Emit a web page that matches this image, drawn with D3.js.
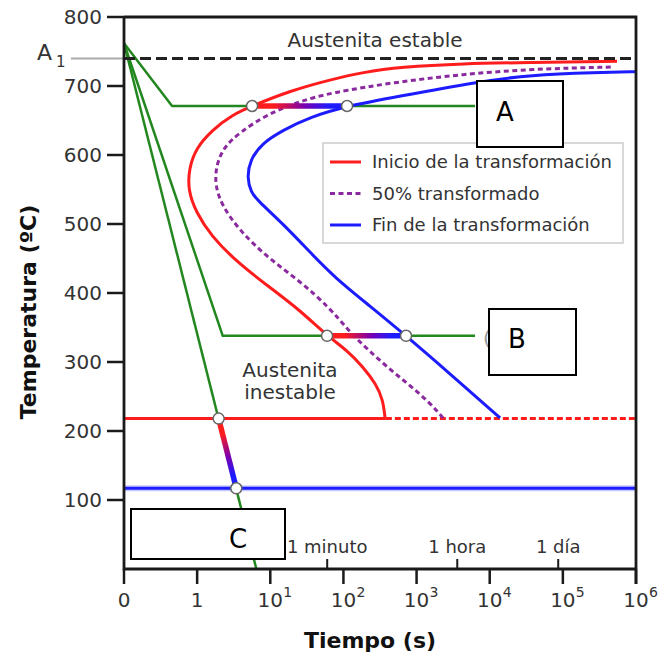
<!DOCTYPE html>
<html>
<head>
<meta charset="utf-8">
<script src="https://cdn.jsdelivr.net/npm/d3@7"></script>
<style>
  html, body { margin: 0; padding: 0; background: #fff; }
  svg { display: block; }
  text { font-family: "DejaVu Sans", sans-serif; }
</style>
</head>
<body>
<svg id="chart" width="660" height="659"></svg>
<script>
// ---------- DATA (log10 time in s, temperature in ºC) ----------
const xTickValues = [-1, 0, 1, 2, 3, 4, 5, 6];
const xTickBase   = ["0", "1", "10", "10", "10", "10", "10", "10"];
const xTickExp    = ["", "", "1", "2", "3", "4", "5", "6"];
const yTickValues = [100, 200, 300, 400, 500, 600, 700, 800];
const timeMarkLabels = ["1 minuto", "1 hora", "1 día"];
const timeMarkSeconds = [60, 3600, 86400];

const A1 = 740;   // line A1
const Ms = 218;   // martensite start
const Mf = 117;   // martensite finish

const legendLabels = ["Inicio de la transformación", "50% transformado", "Fin de la transformación"];

const inicio = [
  [2.57, 218], [2.541, 245], [2.446, 268], [2.268, 293], [2.049, 317], [1.776, 338],
  [1.407, 375], [0.969, 410], [0.532, 446], [0.19, 483], [-0.015, 517], [-0.125, 549],
  [-0.111, 581], [-0.015, 610], [0.204, 636], [0.477, 658], [0.751, 671], [1.27, 693],
  [1.817, 709], [2.268, 720], [2.774, 727.5], [3.635, 732.6], [4.552, 734], [5.741, 736]
];
const mitad = [
  [3.362, 219], [3.157, 243.5], [2.884, 268], [2.596, 293], [2.323, 319], [2.064, 346],
  [1.817, 378], [1.407, 417], [0.956, 452], [0.586, 490], [0.34, 526], [0.245, 556],
  [0.258, 585], [0.368, 612], [0.586, 633], [0.956, 659], [1.407, 678], [1.817, 690],
  [2.733, 706], [3.635, 717], [4.552, 724.6], [5.687, 727.5]
];
const fin = [
  [4.142, 219], [3.457, 283], [2.856, 338], [2.364, 381], [1.885, 422], [1.544, 459],
  [1.175, 500], [0.819, 535], [0.737, 546], [0.682, 567], [0.723, 593], [0.887, 617],
  [1.175, 636], [1.544, 655], [2.05, 671], [2.733, 684.5], [3.827, 706], [4.552, 716],
  [5.468, 719.6], [6.0, 720.7]
];

const coolA = [[-1, 762], [-0.343, 671], [3.80, 671]];
const coolB = [[-1, 762], [0.35, 338], [3.80, 338]];
const coolC = [[-1, 762], [0.81, 0]];

// transformation segments (start, end) and intersection circles
const segA = [[0.751, 671], [2.05, 671]];
const segB = [[1.776, 338], [2.856, 338]];
const segC = [[0.294, 218], [0.535, 117]];
const circles = [[0.751, 671], [2.05, 671], [1.776, 338], [2.856, 338], [0.294, 218], [0.535, 117]];

const msSolidEnd = 2.58;

// ---------- COLOURS ----------
const RED = "#ff1c1c", BLUE = "#1c1cff", PURPLE = "#8a2a9e", GREEN = "#23871f";

// ---------- SCALES ----------
const svg = d3.select("#chart");
const x = d3.scaleLinear().domain([-1, 6]).range([124, 636]);
const y = d3.scaleLinear().domain([0, 800]).range([569, 17]);
const line = d3.line().x(d => x(d[0])).y(d => y(d[1]));
const curve = d3.line().x(d => x(d[0])).y(d => y(d[1])).curve(d3.curveBasis);

const defs = svg.append("defs");
defs.append("clipPath").attr("id", "plotClip").append("rect")
  .attr("x", x(-1)).attr("y", y(800)).attr("width", x(6) - x(-1)).attr("height", y(0) - y(800));

function grad(id, p0, p1) {
  const g = defs.append("linearGradient").attr("id", id).attr("gradientUnits", "userSpaceOnUse")
    .attr("x1", x(p0[0])).attr("y1", y(p0[1])).attr("x2", x(p1[0])).attr("y2", y(p1[1]));
  [[0, RED], [0.22, RED], [0.55, "#7a00b0"], [0.82, BLUE], [1, BLUE]].forEach(s =>
    g.append("stop").attr("offset", s[0]).attr("stop-color", s[1]));
}
grad("gA", segA[0], segA[1]);
grad("gB", segB[0], segB[1]);
grad("gC", segC[0], segC[1]);

const plot = svg.append("g").attr("clip-path", "url(#plotClip)");

// cooling curves
[coolA, coolB, coolC].forEach(c =>
  plot.append("path").attr("d", line(c)).attr("fill", "none")
    .attr("stroke", GREEN).attr("stroke-width", 2.5).attr("stroke-linejoin", "round"));

// Ms and Mf lines
plot.append("path").attr("d", line([[-1, Mf], [6, Mf]])).attr("stroke", "#c8c8ff").attr("stroke-width", 6);
plot.append("path").attr("d", line([[-1, Mf], [6, Mf]])).attr("stroke", BLUE).attr("stroke-width", 3);
plot.append("path").attr("d", line([[-1, Ms], [msSolidEnd, Ms]])).attr("stroke", RED).attr("stroke-width", 3);
plot.append("path").attr("d", line([[msSolidEnd, Ms], [6, Ms]])).attr("stroke", RED)
  .attr("stroke-width", 3).attr("stroke-dasharray", "6,3");

// TTT curves
plot.append("path").attr("d", curve(inicio)).attr("fill", "none").attr("stroke", RED).attr("stroke-width", 3);
plot.append("path").attr("d", curve(mitad)).attr("fill", "none").attr("stroke", PURPLE)
  .attr("stroke-width", 3).attr("stroke-dasharray", "5,3.5");
plot.append("path").attr("d", curve(fin)).attr("fill", "none").attr("stroke", BLUE).attr("stroke-width", 3);

// A1 line
svg.append("path").attr("d", line([[-1, A1], [6, A1]])).attr("stroke", "#222")
  .attr("stroke-width", 3).attr("stroke-dasharray", "11,5");
svg.append("line").attr("x1", 71).attr("x2", x(-1)).attr("y1", y(A1)).attr("y2", y(A1))
  .attr("stroke", "#aaa").attr("stroke-width", 2);

// transformation segments
[["gA", segA], ["gB", segB], ["gC", segC]].forEach(([id, s]) =>
  plot.append("path").attr("d", line(s)).attr("stroke", `url(#${id})`).attr("stroke-width", 5.5));

// circles
plot.selectAll("circle.pt").data(circles).join("circle").attr("class", "pt")
  .attr("cx", d => x(d[0])).attr("cy", d => y(d[1])).attr("r", 5.5)
  .attr("fill", "#fff").attr("stroke", "#666").attr("stroke-width", 1.5);

// region labels
svg.append("text").attr("x", 375).attr("y", 47).attr("text-anchor", "middle")
  .attr("font-size", 20).attr("fill", "#333").text("Austenita estable");
const inest = svg.append("text").attr("x", 290).attr("text-anchor", "middle")
  .attr("font-size", 20).attr("fill", "#333");
inest.append("tspan").attr("x", 290).attr("y", 377).text("Austenita");
inest.append("tspan").attr("x", 290).attr("y", 399).text("inestable");

// A1 label
svg.append("text").attr("x", 37).attr("y", 60).attr("font-size", 22).attr("fill", "#333").text("A");
svg.append("text").attr("x", 56).attr("y", 67).attr("font-size", 15).attr("fill", "#333").text("1");

// legend
const lg = svg.append("g");
lg.append("rect").attr("x", 323).attr("y", 143).attr("width", 300).attr("height", 100)
  .attr("fill", "#fff").attr("stroke", "#ccc").attr("stroke-width", 1.5);
const lgStyles = [[RED, null], [PURPLE, "5,3.5"], [BLUE, null]];
legendLabels.forEach((lab, i) => {
  const yy = 162 + i * 31.5;
  lg.append("line").attr("x1", 330).attr("x2", 361).attr("y1", yy).attr("y2", yy)
    .attr("stroke", lgStyles[i][0]).attr("stroke-width", 3)
    .attr("stroke-dasharray", lgStyles[i][1]);
  lg.append("text").attr("x", 372).attr("y", yy).attr("dy", "0.35em")
    .attr("font-size", 18).attr("fill", "#333").text(lab);
});

// ---------- AXES ----------
const axisColor = "#1a1a1a";
// y ticks
yTickValues.forEach(v => {
  svg.append("line").attr("x1", 107).attr("x2", x(-1)).attr("y1", y(v)).attr("y2", y(v))
    .attr("stroke", axisColor).attr("stroke-width", 2.5);
  svg.append("text").attr("x", 102).attr("y", y(v)).attr("dy", "0.36em").attr("text-anchor", "end")
    .attr("font-size", 20).attr("fill", "#333").text(v);
});
// x ticks
xTickValues.forEach((v, i) => {
  svg.append("line").attr("x1", x(v)).attr("x2", x(v)).attr("y1", y(0)).attr("y2", 584)
    .attr("stroke", axisColor).attr("stroke-width", 2.5);
  svg.append("text").attr("x", x(v)).attr("y", 607).attr("text-anchor", "middle")
    .attr("font-size", 20).attr("fill", "#333").text(xTickBase[i]);
  if (xTickExp[i]) {
    svg.append("text").attr("x", x(v) + 13).attr("y", 597)
      .attr("font-size", 14).attr("fill", "#333").text(xTickExp[i]);
  }
});
// time marks
timeMarkSeconds.forEach((s, i) => {
  const xx = x(Math.log10(s));
  svg.append("line").attr("x1", xx).attr("x2", xx).attr("y1", y(0)).attr("y2", y(0) - 10)
    .attr("stroke", axisColor).attr("stroke-width", 2);
  svg.append("text").attr("x", xx).attr("y", 553).attr("text-anchor", "middle")
    .attr("font-size", 18).attr("fill", "#333").text(timeMarkLabels[i]);
});
// frame
svg.append("path")
  .attr("d", `M${x(-1)},${y(800)}H${x(6)}V${584}M${x(-1)},${y(800)}V${y(0)}H${x(6)}`)
  .attr("fill", "none").attr("stroke", axisColor).attr("stroke-width", 2.8);

// axis titles
svg.append("text").attr("x", 370).attr("y", 648).attr("text-anchor", "middle")
  .attr("font-size", 22).attr("font-weight", "bold").attr("fill", "#111").text("Tiempo (s)");
svg.append("text").attr("transform", "translate(36,312) rotate(-90)").attr("text-anchor", "middle")
  .attr("font-size", 22).attr("font-weight", "bold").attr("fill", "#111").text("Temperatura (ºC)");

// remnant bracket near B
svg.append("text").attr("x", 483).attr("y", 345).attr("font-size", 20).attr("fill", "#999").text("(");

// ---------- LABEL BOXES ----------
const boxes = [
  {x0: 477, y0: 81, x1: 563, y1: 147, lab: "A", tx: 505, ty: 112},
  {x0: 489, y0: 309, x1: 576, y1: 375, lab: "B", tx: 517, ty: 339},
  {x0: 131, y0: 509, x1: 285, y1: 559, lab: "C", tx: 238, ty: 539}
];
boxes.forEach(b => {
  svg.append("rect").attr("x", b.x0).attr("y", b.y0).attr("width", b.x1 - b.x0).attr("height", b.y1 - b.y0)
    .attr("fill", "#fff").attr("stroke", "#000").attr("stroke-width", 2);
  svg.append("text").attr("x", b.tx).attr("y", b.ty).attr("dy", "0.35em").attr("text-anchor", "middle")
    .attr("font-family", "Lato, 'Open Sans', sans-serif").attr("font-size", 26).attr("fill", "#000").text(b.lab);
});
</script>
</body>
</html>
